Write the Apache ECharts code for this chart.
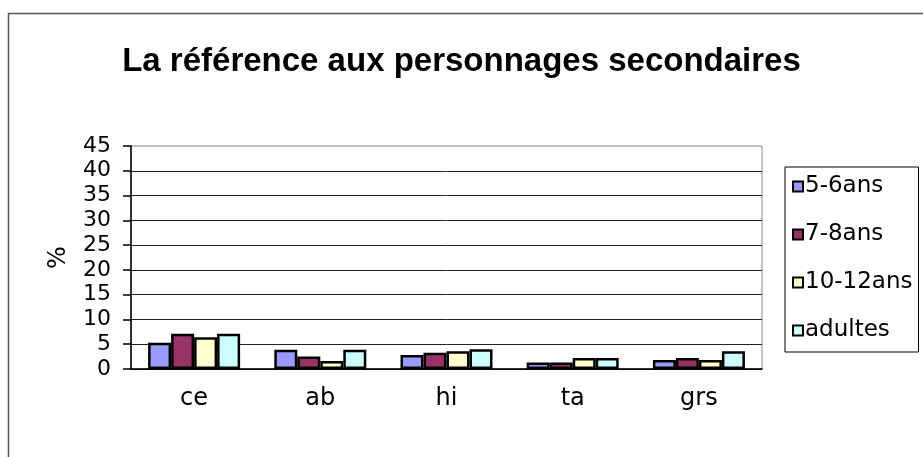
<!DOCTYPE html>
<html>
<head>
<meta charset="utf-8">
<script src="https://cdn.jsdelivr.net/npm/echarts@6/dist/echarts.min.js"></script>
<style>
  html, body { margin: 0; padding: 0; background: #fff; }
  #chart { width: 923px; height: 457px; }
</style>
</head>
<body>
<div id="chart"></div>
<script>
  const categories = ['ce', 'ab', 'hi', 'ta', 'grs'];
  const ans56 = [5.3, 3.9, 2.8, 1.3, 1.8];
  const ans78 = [7.1, 2.5, 3.3, 1.3, 2.2];
  const ans1012 = [6.4, 1.6, 3.6, 2.2, 1.8];
  const adultes = [7.1, 3.9, 4.0, 2.2, 3.6];

  const myChart = echarts.init(document.getElementById('chart'));
  const font = 'DejaVu Sans';

  function bar(name, data, color) {
    return {
      name: name,
      type: 'bar',
      barWidth: 23,
      barGap: '0%',
      data: data,
      itemStyle: { color: color, borderColor: '#000', borderWidth: 2.5 }
    };
  }

  const option = {
    animation: false,
    title: {
      text: 'La référence aux personnages secondaires',
      left: 'center',
      top: 40,
      textStyle: { fontFamily: 'Liberation Sans', fontWeight: 'bold', fontSize: 33, color: '#000' }
    },
    graphic: [
      {
        type: 'rect',
        shape: { x: 8.5, y: 13.5, width: 940, height: 460 },
        style: { fill: 'none', stroke: '#555', lineWidth: 1.5 }
      }
    ],
    legend: {
      orient: 'vertical',
      left: 785,
      top: 167,
      padding: [8, 6, 10, 7],
      itemGap: 25,
      itemWidth: 10,
      itemHeight: 10,
      borderColor: '#000',
      borderWidth: 1,
      icon: 'rect',
      textStyle: { fontFamily: font, fontSize: 23, color: '#000', padding: [0, 0, 0, -3] },
      data: ['5-6ans', '7-8ans', '10-12ans', 'adultes']
    },
    grid: {
      left: 131,
      right: 161,
      top: 146,
      bottom: 88,
      show: true,
      borderColor: '#888',
      borderWidth: 1
    },
    xAxis: {
      type: 'category',
      data: categories,
      axisLine: { lineStyle: { color: '#000', width: 1.5 } },
      axisTick: { length: 8, lineStyle: { color: '#000', width: 1.5 } },
      axisLabel: { fontFamily: font, fontSize: 24, color: '#000', margin: 18 }
    },
    yAxis: {
      type: 'value',
      min: 0,
      max: 45,
      interval: 5,
      name: '%',
      nameLocation: 'middle',
      nameRotate: 90,
      nameGap: 60,
      nameTextStyle: { fontFamily: font, fontSize: 24, color: '#000' },
      axisLine: { show: true, lineStyle: { color: '#000', width: 1.5 } },
      axisTick: { show: true, length: 8, lineStyle: { color: '#000', width: 1.5 } },
      axisLabel: { fontFamily: font, fontSize: 22, color: '#000', margin: 20, lineHeight: 20 },
      splitLine: { show: true, showMaxLine: false, lineStyle: { color: '#222', width: 1 } }
    },
    series: [
      bar('5-6ans', ans56, '#9999FF'),
      bar('7-8ans', ans78, '#993366'),
      bar('10-12ans', ans1012, '#FFFFCC'),
      bar('adultes', adultes, '#CCFFFF')
    ]
  };

  myChart.setOption(option);
</script>
</body>
</html>
